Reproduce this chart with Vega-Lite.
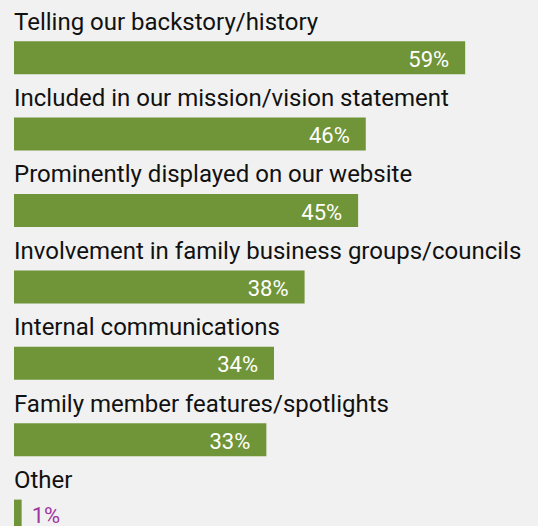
{
  "$schema": "https://vega.github.io/schema/vega-lite/v6.json",
  "width": 520,
  "height": {"step": 76.4},
  "padding": {"left": 14, "top": 0.2, "right": 4, "bottom": 0},
  "background": "#f1f1f1",
  "config": {"view": {"stroke": null}},
  "data": {"values": [
    {"order": 1, "label": "Telling our backstory/history", "value": 59, "text": "59%"},
    {"order": 2, "label": "Included in our mission/vision statement", "value": 46, "text": "46%"},
    {"order": 3, "label": "Prominently displayed on our website", "value": 45, "text": "45%"},
    {"order": 4, "label": "Involvement in family business groups/councils", "value": 38, "text": "38%"},
    {"order": 5, "label": "Internal communications", "value": 34, "text": "34%"},
    {"order": 6, "label": "Family member features/spotlights", "value": 33, "text": "33%"},
    {"order": 7, "label": "Other", "value": 1, "text": "1%"}
  ]},
  "encoding": {
    "y": {"field": "label", "type": "nominal", "axis": null,
          "sort": ["Telling our backstory/history", "Included in our mission/vision statement", "Prominently displayed on our website", "Involvement in family business groups/councils", "Internal communications", "Family member features/spotlights", "Other"],
          "scale": {"paddingInner": 0, "paddingOuter": 0}}
  },
  "layer": [
    {
      "mark": {"type": "bar", "height": 33, "yOffset": 19.3, "color": "#709438"},
      "encoding": {
        "x": {"field": "value", "type": "quantitative", "axis": null,
              "scale": {"domain": [0, 68], "nice": false, "zero": true}}
      }
    },
    {
      "mark": {"type": "text", "align": "left", "baseline": "alphabetic", "yOffset": -8.8,
               "fontSize": 24, "font": "Roboto", "color": "#111111"},
      "encoding": {"text": {"field": "label"}, "x": {"datum": 0}}
    },
    {
      "transform": [{"filter": "datum.value >= 5"}],
      "mark": {"type": "text", "align": "right", "baseline": "alphabetic", "yOffset": 28.4, "dx": -16,
               "fontSize": 22, "font": "Roboto", "color": "#ffffff"},
      "encoding": {"text": {"field": "text"}, "x": {"field": "value", "type": "quantitative"}}
    },
    {
      "transform": [{"filter": "datum.value < 5"}],
      "mark": {"type": "text", "align": "left", "baseline": "alphabetic", "yOffset": 26.4, "dx": 10,
               "fontSize": 22, "font": "Roboto", "color": "#9e36a0"},
      "encoding": {"text": {"field": "text"}, "x": {"field": "value", "type": "quantitative"}}
    }
  ]
}
